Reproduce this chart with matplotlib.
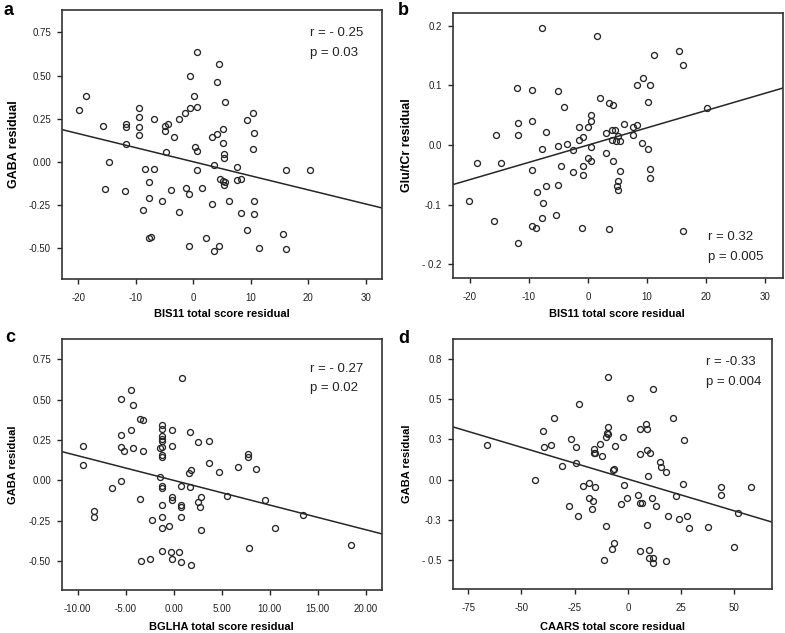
import numpy as np
import matplotlib
matplotlib.use('Agg')
import matplotlib.pyplot as plt

plt.rcParams['font.family'] = ['Liberation Sans', 'DejaVu Sans']
plt.rcParams['axes.unicode_minus'] = False

# ---------------- data ----------------
# Panel a: BIS11 vs GABA
a_x = [-19.9, -18.7, -15.7, -14.7, -15.4, -11.7, -11.7, -11.7, -11.9, -9.4, -9.4, -9.4, -9.4,
       -8.4, -6.8, -7.6, -7.7, -8.7, -7.6, -7.3, -6.9, -4.9, -4.4, -4.9, -3.4, -4.8, -3.8, -5.4,
       -2.4, -1.4, -0.6, -0.6, 0.2, 0.6, 0.6, 0.3, 0.7, 0.6, -1.3, -0.8, -2.4, -0.8, 1.6,
       4.4, 4.2, 5.6, 9.4, 10.3, 10.6, 10.3, 3.2, 4.2, 5.2, 5.1, 5.3, 5.3, 3.6, 7.6, 7.6, 8.3,
       4.6, 5.1, 5.5, 5.4, 3.2, 6.2, 10.6, 8.3, 10.6, 9.4, 16.2, 20.3, 15.6, 16.2, 11.4, 2.2,
       4.4, 3.6]
a_y = [0.30, 0.38, 0.21, 0.00, -0.16, 0.22, 0.20, 0.10, -0.17, 0.31, 0.26, 0.20, 0.155,
       -0.04, -0.04, -0.12, -0.21, -0.28, -0.44, -0.435, 0.25, 0.205, 0.22, 0.18, 0.145, 0.055,
       -0.165, -0.23, 0.25, 0.28, 0.31, 0.50, 0.38, 0.635, 0.32, 0.085, 0.06, -0.045, -0.15,
       -0.185, -0.29, -0.49, -0.15, 0.565, 0.465, 0.345, 0.24, 0.28, 0.165, 0.075, 0.145, 0.16,
       0.19, 0.11, 0.045, 0.02, -0.02, -0.03, -0.105, -0.10, -0.10, -0.11, -0.115, -0.135,
       -0.245, -0.225, -0.225, -0.295, -0.305, -0.395, -0.045, -0.045, -0.42, -0.505, -0.50,
       -0.44, -0.49, -0.52]

# Panel b: BIS11 vs Glu/tCr
b_x = [-7.85, -12.1, -9.5, -5.0, -4.0, -11.8, -11.8, -9.5, -15.6, -7.05, -7.85, -5.0, -3.5,
       -2.5, -1.5, -1.6, -0.9, -18.85, -14.8, -9.5, -4.5, -2.55, -0.8, -0.9, -20.1, -8.6, -7.05,
       -5.0, -7.55, -15.85, -5.5, -7.85, -9.5, -8.8, -11.8, -1.0,
       1.46, 15.45, 11.2, 16.1, 9.24, 8.2, 10.5, 2.0, 3.5, 4.2, 10.2, 20.2, 0.45, 0.56, 0.05,
       6.0, 7.55, 8.2, 7.55, 4.05, 4.57, 2.98, 4.0, 5.1, 4.8, 5.4, 0.45, 9.1, 10.2, 2.98,
       -0.07, 0.45, 4.2, 5.47, 10.5, 10.5, 5.1, 4.9, 5.1, 3.5, 16.1]
b_y = [0.196, 0.0965, 0.0925, 0.0915, 0.063, 0.037, 0.017, 0.040, 0.017, 0.022, -0.007,
       -0.002, 0.002, -0.008, 0.030, 0.009, 0.013, -0.030, -0.030, -0.042, -0.035, -0.045,
       -0.051, -0.035, -0.094, -0.079, -0.069, -0.067, -0.0965, -0.128, -0.117, -0.123, -0.136,
       -0.139, -0.165, -0.139,
       0.183, 0.157, 0.151, 0.135, 0.112, 0.100, 0.101, 0.079, 0.071, 0.0675, 0.0725, 0.062,
       0.050, 0.040, 0.031, 0.036, 0.031, 0.033, 0.017, 0.026, 0.026, 0.0195, 0.008, 0.016,
       0.006, 0.007, -0.003, 0.003, -0.006, -0.013, -0.021, -0.027, -0.027, -0.043, -0.040,
       -0.055, -0.061, -0.068, -0.075, -0.140, -0.1445]

# Panel c: BGLHA vs GABA
c_x = [-9.48, -9.48, -8.26, -8.26, -6.45, -5.47, -5.47, -4.46, -4.25, -4.46, -5.47, -5.47,
       -5.23, -4.25, -3.48, -3.24, -3.24, -3.48, -3.45, -2.47, -2.26, -1.18, -1.18, -1.18,
       -1.18, -1.18, -1.18, -1.18, -1.18, -1.46, -0.17, -0.17, -1.46, -1.18, -1.18, -1.18,
       -1.18, -1.18, -0.45, -0.17, -0.17, -1.18, -0.28, -0.17, 0.59, 0.77, 1.81, 0.87, 0.8,
       1.74, 0.8, 0.8, 0.8, 1.7, 1.57, 1.81,
       2.5, 3.72, 7.7, 7.7, 3.72, 4.73, 6.74, 8.54, 2.8, 2.5, 2.7, 5.52, 9.55, 13.5, 2.8,
       10.56, 7.8, 18.5]
c_y = [0.215, 0.097, -0.188, -0.228, -0.050, -0.004, 0.505, 0.563, 0.466, 0.31, 0.279, 0.209,
       0.184, 0.203, 0.379, 0.375, 0.18, -0.114, -0.503, -0.49, -0.246, 0.341, 0.321, 0.277,
       0.255, 0.242, 0.209, 0.155, 0.147, 0.203, 0.312, 0.215, 0.021, -0.033, -0.05, -0.151,
       -0.23, -0.294, -0.286, -0.101, -0.122, -0.437, -0.443, -0.486, -0.443, -0.505, -0.526,
       0.635, -0.033, -0.039, -0.151, -0.163, -0.23, 0.30, 0.043, 0.062,
       0.24, 0.244, 0.163, 0.147, 0.11, 0.054, 0.081, 0.072, -0.103, -0.137, -0.168, -0.099,
       -0.122, -0.213, -0.306, -0.298, -0.418, -0.40]

# Panel d: CAARS vs GABA
d_x = [-66.4, -43.4, -40.1, -39.6, -36.2, -34.5, -31.0, -26.9, -24.3, -24.3, -22.9, -27.7,
       -23.2, -21.2, -18.2, -18.4, -16.4, -16.9, -15.2,
       -9.1, 11.7, 0.8, 21.1, 8.6, 5.8, 8.9, -9.1, -9.7, -10.2, -9.1, -2.2, 26.6, -6.0, -13.3,
       -16.0, -15.2, -16.0, -12.2, 9.1, 10.2, 5.8, 14.9, 15.5, 17.7, -7.05, -6.3, 9.7, -1.9,
       -3.3, -0.3, 4.7, 5.6, 6.7, 11.4, 13.0, 25.8, 22.7, 43.9, 43.9, 58.1, 51.7, 19.0, 24.0,
       27.7, 28.7, 37.6, 8.8, -10.2, -6.3, -7.4, -11.4, 5.6, 10.0, 10.0, 11.7, 11.7, 18.0, 49.7]
d_y = [0.217, -0.002, 0.304, 0.205, 0.213, 0.385, 0.087, 0.25, 0.205, 0.101, 0.468, -0.163,
       -0.228, -0.039, -0.021, -0.112, -0.134, -0.184, -0.043,
       0.639, 0.565, 0.505, 0.381, 0.344, 0.312, 0.315, 0.325, 0.288, 0.267, 0.281, 0.267,
       0.244, 0.207, 0.219, 0.19, 0.163, 0.168, 0.149, 0.184, 0.163, 0.161, 0.112, 0.079, 0.05,
       0.06, 0.064, 0.025, -0.035, -0.151, -0.116, -0.097, -0.147, -0.147, -0.116, -0.166,
       -0.029, -0.101, -0.043, -0.095, -0.043, -0.209, -0.226, -0.242, -0.226, -0.302, -0.296,
       -0.281, -0.29, -0.395, -0.433, -0.499, -0.443, -0.437, -0.484, -0.486, -0.519, -0.505,
       -0.416]

# Regression lines (slope, intercept)
fit_slopes = [-0.00817, 0.0029, -0.0153, -0.00394]
fit_intercepts = [0.0, 0.0, 0.0, 0.004]

# Statistics text
r_texts = ['r = - 0.25', 'r = 0.32', 'r = - 0.27', 'r = -0.33']
p_texts = ['p = 0.03', 'p = 0.005', 'p = 0.02', 'p = 0.004']
panel_letters = ['a', 'b', 'c', 'd']
x_labels = ['BIS11 total score residual', 'BIS11 total score residual',
            'BGLHA total score residual', 'CAARS total score residual']
y_labels = ['GABA residual', 'Glu/tCr residual', 'GABA residual', 'GABA residual']

# Ticks
a_xticks = [-20, -10, 0, 10, 20, 30]
a_xticklabels = ['-20', '-10', '0', '10', '20', '30']
gaba_yticks = [0.75, 0.50, 0.25, 0.0, -0.25, -0.50]
gaba_yticklabels = ['0.75', '0.50', '0.25', '0.00', '-0.25', '-0.50']
b_yticks = [0.2, 0.1, 0.0, -0.1, -0.2]
b_yticklabels = ['0.2', '0.1', '0.0', '-0.1', '- 0.2']
c_xticks = [-10, -5, 0, 5, 10, 15, 20]
c_xticklabels = ['-10.00', '-5.00', '0.00', '5.00', '10.00', '15.00', '20.00']
d_xticks = [-75, -50, -25, 0, 25, 50]
d_xticklabels = ['-75', '-50', '-25', '0', '25', '50']
d_yticklabels = ['0.8', '0.5', '0.3', '0.0', '-0.3', '- 0.5']

# ---------------- layout ----------------
W, H = 785, 633
fig = plt.figure(figsize=(W / 100, H / 100), dpi=100)


def box(l, t, r, b):
    return [l / W, 1 - b / H, (r - l) / W, (b - t) / H]


panels = [
    dict(x=a_x, y=a_y, pos=box(62, 10, 382, 279), xlim=(-22.8, 32.8), ylim=(-0.68, 0.88),
         xt=a_xticks, xtl=a_xticklabels, yt=gaba_yticks, ytl=gaba_yticklabels,
         txt=(310, 36), let=(3, 15), xl=(222, 314), yl=(14, 9)),
    dict(x=b_x, y=b_y, pos=box(452.7, 12.7, 782.5, 278), xlim=(-22.9, 32.9), ylim=(-0.223, 0.222),
         xt=a_xticks, xtl=a_xticklabels, yt=b_yticks, ytl=b_yticklabels,
         txt=(708, 240), let=(398, 15), xl=(617, 314), yl=(407, 9)),
    dict(x=c_x, y=c_y, pos=box(62, 339.3, 382, 590), xlim=(-11.64, 21.7), ylim=(-0.68, 0.875),
         xt=c_xticks, xtl=c_xticklabels, yt=gaba_yticks, ytl=gaba_yticklabels,
         txt=(310, 371.5), let=(5, 342), xl=(221, 627), yl=(13, 8)),
    dict(x=d_x, y=d_y, pos=box(452.7, 338.7, 771.7, 589.3), xlim=(-82.3, 67.6), ylim=(-0.68, 0.875),
         xt=d_xticks, xtl=d_xticklabels, yt=gaba_yticks, ytl=d_yticklabels,
         txt=(706.5, 365), let=(398, 342.5), xl=(612, 627), yl=(407, 8)),
]

dark = '#262626'
for i, p in enumerate(panels):
    ax = fig.add_axes(p['pos'])
    ax.plot(p['x'], p['y'], 'o', mfc='none', mec=dark, ms=4.3, mew=0.95, zorder=3)
    ax.set_xlim(*p['xlim'])
    ax.set_ylim(*p['ylim'])
    xs = np.array(p['xlim'])
    ax.plot(xs, fit_slopes[i] * xs + fit_intercepts[i], color=dark, lw=1.1, zorder=2)
    ax.set_xticks(p['xt'])
    ax.set_xticklabels(p['xtl'])
    ax.set_yticks(p['yt'])
    ax.set_yticklabels(p['ytl'])
    ax.tick_params(direction='out', length=3.5, width=1.0, color=dark, labelsize=7,
                   labelcolor='#222222')
    ax.tick_params(axis='x', pad=6.5)
    ax.tick_params(axis='y', pad=4.5)
    for s in ax.spines.values():
        s.set_linewidth(1.2)
        s.set_color('#333333')
    tx, ty = p['txt']
    fig.text(tx / W, 1 - ty / H, r_texts[i], fontsize=9.5, color='#222222', va='baseline')
    fig.text(tx / W, 1 - (ty + 20) / H, p_texts[i], fontsize=9.5, color='#222222', va='baseline')
    lx, ly = p['let']
    fig.text(lx / W, 1 - ly / H, panel_letters[i], fontsize=13, fontweight='bold',
             va='baseline', ha='left')
    xx, xy = p['xl']
    fig.text(xx / W, 1 - xy / H, x_labels[i], fontsize=8, fontweight='bold',
             ha='center', va='center')
    yx, yfs = p['yl']
    pos = p['pos']
    fig.text(yx / W, pos[1] + pos[3] / 2, y_labels[i], fontsize=yfs, fontweight='bold',
             rotation=90, ha='center', va='center')

fig.savefig('out.png', dpi=100)
